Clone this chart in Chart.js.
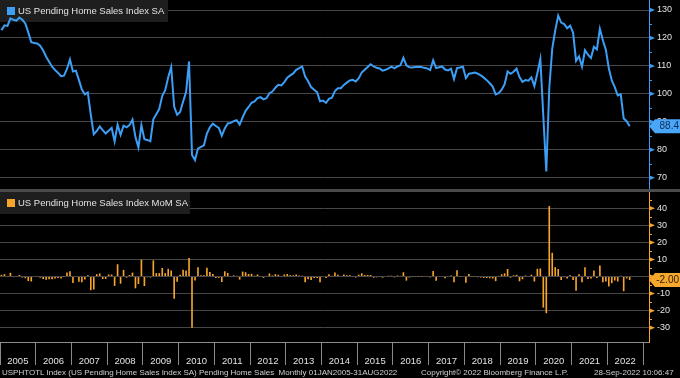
<!DOCTYPE html>
<html><head><meta charset="utf-8">
<script src="https://cdn.jsdelivr.net/npm/chart.js@4"></script>
<style>
html,body{margin:0;padding:0;background:#000;width:680px;height:378px;overflow:hidden}
canvas{position:absolute;left:0}
#top{top:0}
#bot{top:192px}
#sep{position:absolute;left:0;top:189px;width:680px;height:3px;background:#4a4a4a}
.ft{position:absolute;top:368px;font:8px "Liberation Sans",Arial,sans-serif;line-height:10px;color:#d0d0d0;white-space:pre}
</style></head><body>
<canvas id="top" width="680" height="189"></canvas>
<div id="sep"></div>
<canvas id="bot" width="680" height="186"></canvas>
<div class="ft" style="left:2px">USPHTOTL Index (US Pending Home Sales Index SA) Pending Home Sales  Monthly 01JAN2005-31AUG2022</div>
<div class="ft" style="left:421px">Copyright© 2022 Bloomberg Finance L.P.</div>
<div class="ft" style="left:594px">28-Sep-2022 10:06:47</div>
<script>
const yearLabels = ['2005','2006','2007','2008','2009','2010','2011','2012','2013','2014','2015','2016','2017','2018','2019','2020','2021','2022'];
const topTicks = [70,80,90,100,110,120,130];
const botTicks = [-30,-20,-10,0,10,20,30,40];
const seriesTopName = 'US Pending Home Sales Index SA';
const seriesBotName = 'US Pending Home Sales Index MoM SA';

// Monthly index, Jan 2005 - Aug 2022
const indexSA = [
122.8,124.5,124.3,127.0,126.5,126.2,127.3,126.5,125.2,122.0,118.5,118.2,
118.0,117.2,115.5,113.3,111.5,109.7,108.5,107.5,106.3,106.5,108.9,112.3,
108.0,108.3,105.0,101.5,99.8,100.5,92.5,85.5,86.7,88.3,87.0,85.8,
86.8,87.8,83.0,89.0,85.3,88.6,88.0,88.8,90.8,84.5,80.8,88.8,
83.8,83.5,83.0,90.9,92.7,94.6,99.3,101.3,105.9,109.6,95.4,92.5,
93.5,97.2,100.6,111.6,78.1,76.3,80.4,81.0,81.6,85.8,88.0,89.3,
88.5,87.8,85.0,87.6,89.4,89.6,90.2,90.6,89.0,91.6,93.9,95.3,
96.8,97.3,98.5,98.8,98.0,98.4,100.2,100.8,102.2,103.2,103.0,104.2,
105.8,106.6,107.3,108.6,109.2,109.8,106.2,104.5,102.4,101.5,100.6,97.3,
97.6,96.8,98.2,98.6,101.0,102.0,102.0,103.2,104.0,104.8,105.0,104.4,
105.6,107.6,108.6,109.6,110.6,109.8,109.3,109.1,108.3,108.6,109.1,109.7,
109.1,109.8,110.2,112.9,110.2,109.5,109.4,109.6,109.7,109.6,109.3,109.1,
108.5,112.0,109.2,109.5,109.8,108.7,108.4,109.0,105.3,109.2,109.4,109.7,
105.6,107.2,107.4,107.6,107.2,106.6,105.8,104.9,103.8,102.6,99.8,100.2,
101.5,103.4,108.0,107.2,107.9,109.0,106.0,104.3,104.9,104.7,105.9,102.8,
107.4,112.5,92.0,72.2,102.0,116.2,122.6,128.0,125.5,125.0,123.5,124.4,
121.9,111.8,113.4,109.7,115.6,114.0,112.8,116.8,115.9,123.3,119.2,115.8,
109.1,104.8,102.4,99.4,99.8,91.2,90.2,88.4
];

// Month-over-month %, Jan 2005 - Aug 2022
const momSA = [
1.0,1.4,-0.2,2.2,-0.4,-0.2,0.9,-0.6,-1.0,-2.6,-2.9,-0.3,
-0.2,-0.7,-1.5,-1.9,-1.6,-1.6,-1.1,-0.9,-1.1,0.2,2.3,3.1,
-3.8,0.3,-3.0,-3.3,-1.7,0.7,-8.0,-7.6,1.4,1.8,-1.5,-1.4,
1.2,1.2,-5.5,7.2,-4.2,3.9,-0.7,0.9,2.3,-6.9,-4.4,9.9,
-5.6,-0.4,-0.6,9.5,2.0,2.0,5.0,2.0,4.5,3.5,-13.0,-3.0,
1.1,4.0,3.5,10.9,-30.0,-2.3,5.4,0.7,0.7,5.1,2.6,1.5,
-0.9,-0.8,-3.2,3.1,2.1,0.2,0.7,0.4,-1.8,2.9,2.5,1.5,
1.6,0.5,1.2,0.3,-0.8,0.4,1.8,0.6,1.4,1.0,-0.2,1.2,
1.5,0.8,0.7,1.2,0.6,0.5,-3.3,-1.6,-2.0,-0.9,-0.9,-3.3,
0.3,-0.8,1.4,0.4,2.4,1.0,0.0,1.2,0.8,0.8,0.2,-0.6,
1.1,1.9,0.9,0.9,0.9,-0.7,-0.5,-0.2,-0.7,0.3,0.5,0.5,
-0.5,0.6,0.4,2.5,-2.4,-0.6,-0.1,0.2,0.1,-0.1,-0.3,-0.2,
-0.5,3.2,-2.5,0.3,0.3,-1.0,-0.3,0.6,-3.4,3.7,0.2,0.3,
-3.7,1.5,0.2,0.2,-0.4,-0.6,-0.8,-0.9,-1.0,-1.2,-2.7,0.4,
1.3,1.9,4.4,-0.7,0.7,1.0,-2.8,-1.6,0.6,-0.2,1.1,-2.9,
4.5,4.7,-18.2,-21.5,41.3,13.9,5.5,4.4,-2.0,-0.4,-1.2,0.7,
-2.0,-8.3,1.4,-3.3,5.4,-1.4,-1.1,3.5,-0.8,6.4,-3.3,-2.9,
-5.8,-3.9,-2.3,-2.9,0.4,-8.6,-1.1,-2.0
];

const FONT = '"Liberation Sans", Arial, sans-serif';
const BLUE = '#3d9ef5';
const ORANGE = '#f5a52a';
const GRID = '#474747';
const TXT = '#e2e2e2';
const X_MAX = 218;

function toXY(arr){ return arr.map((v,i)=>({x:i+0.5, y:v})); }

function drawLegend(ctx, y0, w, color, text){
  ctx.save();
  ctx.fillStyle = '#1e1e1e';
  ctx.fillRect(0, y0, w, 22);
  ctx.fillStyle = color;
  ctx.fillRect(7, y0 + 7, 8, 8);
  ctx.fillStyle = TXT;
  ctx.font = '9.5px ' + FONT;
  ctx.textBaseline = 'middle';
  ctx.fillText(text, 18, y0 + 11.5);
  ctx.restore();
}
function drawMarks(ctx, s, ticks, step, color){
  const x0 = s.left;
  ctx.save();
  ctx.fillStyle = color; ctx.strokeStyle = color; ctx.lineWidth = 1;
  ticks.forEach(v=>{
    const y = s.getPixelForValue(v);
    ctx.beginPath(); ctx.moveTo(x0, y-2.5); ctx.lineTo(x0+6, y); ctx.lineTo(x0, y+2.5); ctx.closePath(); ctx.fill();
    const m = v + step/2;
    if (m < s.max) {
      const ym = Math.round(s.getPixelForValue(m)) + 0.5;
      ctx.beginPath(); ctx.moveTo(x0, ym); ctx.lineTo(x0+3, ym); ctx.stroke();
    }
  });
  ctx.restore();
}
function drawTag(ctx, s, value, text, fill, tcol){
  const y = s.getPixelForValue(value);
  const x0 = s.left;
  ctx.save();
  ctx.fillStyle = fill;
  ctx.beginPath();
  ctx.moveTo(x0, y); ctx.lineTo(x0+6, y-7); ctx.lineTo(680, y-7); ctx.lineTo(680, y+7); ctx.lineTo(x0+6, y+7); ctx.closePath();
  ctx.fill();
  ctx.fillStyle = tcol;
  ctx.font = '10px ' + FONT;
  ctx.textBaseline = 'middle';
  ctx.textAlign = 'right';
  ctx.fillText(text, 679, y + 0.5);
  ctx.restore();
}

const topPlugin = {
  id:'topDeco',
  beforeDatasetsDraw(chart){ drawLegend(chart.ctx, 0, 168, BLUE, seriesTopName); },
  afterDraw(chart){
    const s = chart.scales.y;
    drawMarks(chart.ctx, s, topTicks, 10, BLUE);
    const last = indexSA[indexSA.length-1];
    drawTag(chart.ctx, s, last, last.toFixed(1), '#4aa6f8', '#0f2e55');
  }
};
const botPlugin = {
  id:'botDeco',
  beforeDatasetsDraw(chart){ drawLegend(chart.ctx, 0, 190, ORANGE, seriesBotName); },
  afterDraw(chart){
    const s = chart.scales.y;
    drawMarks(chart.ctx, s, botTicks, 10, ORANGE);
    const last = momSA[momSA.length-1];
    drawTag(chart.ctx, s, last, last.toFixed(2), '#f7a82c', '#2b1a00');
  }
};

function yAxis(min, max, ticks, color){
  return {
    position:'right', min:min, max:max,
    afterBuildTicks(s){ s.ticks = ticks.map(v=>({value:v})); },
    afterFit(s){ s.width = 31; s.paddingTop = 0; s.paddingBottom = 0; },
    ticks:{ color:TXT, font:{size:9, family:FONT}, padding:8, callback:v=>String(v) },
    grid:{ color:GRID, lineWidth:1, drawTicks:false },
    border:{ display:true, color:color, width:1 }
  };
}

Chart.defaults.animation = false;
Chart.defaults.font.family = FONT;

new Chart(document.getElementById('top'), {
  type:'line',
  data:{ datasets:[{ label:seriesTopName, data:toXY(indexSA), borderColor:BLUE, borderWidth:2, pointRadius:0, tension:0, fill:false }]},
  options:{
    responsive:false, devicePixelRatio:1, animation:false,
    layout:{ padding:{ top:0, bottom:1, left:0, right:0 } },
    plugins:{ legend:{display:false}, tooltip:{enabled:false} },
    scales:{
      x:{ type:'linear', min:0, max:X_MAX, display:false },
      y: yAxis(66.3, 133.58, topTicks, BLUE)
    }
  },
  plugins:[topPlugin]
});

new Chart(document.getElementById('bot'), {
  type:'bar',
  data:{ datasets:[{ label:seriesBotName, data:toXY(momSA), backgroundColor:ORANGE, barPercentage:0.55, categoryPercentage:1.0 }]},
  options:{
    responsive:false, devicePixelRatio:1, animation:false,
    layout:{ padding:0 },
    plugins:{ legend:{display:false}, tooltip:{enabled:false} },
    scales:{
      x:{
        type:'linear', min:0, max:X_MAX, offset:false,
        afterBuildTicks(s){ s.ticks = yearLabels.map((y,k)=>({value:k*12})).concat([{value:yearLabels.length*12}]); },
        afterFit(s){ s.height = 36; s.paddingLeft = 0; s.paddingRight = 0; },
        ticks:{ color:TXT, font:{size:9.5, family:FONT}, labelOffset:17.86, padding:-9, maxRotation:0, minRotation:0, autoSkip:false,
          callback:(v)=>{ const k = Math.round(v/12); return k < yearLabels.length ? yearLabels[k] : ''; } },
        grid:{ drawOnChartArea:false, drawTicks:true, tickLength:23, color:'#8a8a8a', offset:false },
        border:{ display:true, color:'#8c8c8c' }
      },
      y: yAxis(-38.38, 49.55, botTicks, ORANGE)
    }
  },
  plugins:[botPlugin]
});
</script>
</body></html>
